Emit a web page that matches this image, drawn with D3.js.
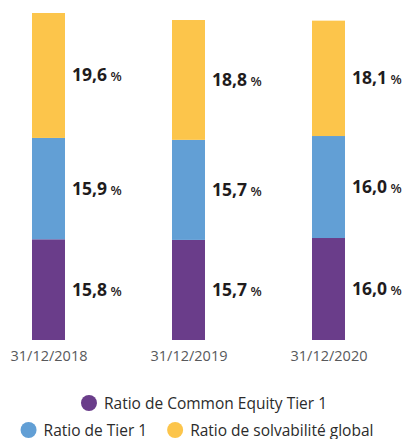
<!DOCTYPE html>
<html>
<head>
<meta charset="utf-8">
<script src="https://cdn.jsdelivr.net/npm/d3@7"></script>
<style>
  body { margin: 0; background: #fff; }
  svg { display: block; font-family: "Open Sans", sans-serif; }
</style>
</head>
<body>
<svg></svg>
<script>
const dates = ["31/12/2018", "31/12/2019", "31/12/2020"];
const cet1 = [15.8, 15.7, 16.0];
const tier1 = [15.9, 15.7, 16.0];
const globalRatio = [19.6, 18.8, 18.1];

const seriesNames = ["Ratio de Common Equity Tier 1", "Ratio de Tier 1", "Ratio de solvabilité global"];
const colors = ["#6a3d8a", "#629fd5", "#fcc54b"];

const width = 408;
const height = 439;
const barWidth = 33;
const baseY = 340;
const topY = 13;

const svg = d3.select("svg").attr("width", width).attr("height", height);

// stack the three ratios on top of each other, one segment per ratio
const rows = dates.map((d, i) => ({ date: d, s0: cet1[i], s1: tier1[i], s2: globalRatio[i] }));
const stacked = d3.stack().keys(["s0", "s1", "s2"])(rows);

const xScale = d3.scalePoint().domain(dates).range([48.5, 328.5]);
const yScale = d3.scaleLinear()
    .domain([0, d3.max(rows, r => r.s0 + r.s1 + r.s2)])
    .range([baseY, topY]);

const fmt = v => v.toFixed(1).replace(".", ",");

stacked.forEach((layer, k) => {
    svg.append("g")
        .selectAll("rect")
        .data(layer)
        .enter()
        .append("rect")
        .attr("x", d => xScale(d.data.date) - barWidth / 2)
        .attr("width", barWidth)
        .attr("y", d => yScale(d[1]))
        .attr("height", d => yScale(d[0]) - yScale(d[1]))
        .attr("fill", colors[k]);

    const labels = svg.append("g")
        .selectAll("text")
        .data(layer)
        .enter()
        .append("text")
        .attr("x", d => xScale(d.data.date) + barWidth / 2 + 7)
        .attr("y", d => (yScale(d[0]) + yScale(d[1])) / 2 + 6)
        .attr("fill", "#1f1c1d");
    labels.append("tspan")
        .attr("font-size", 17.5)
        .attr("font-weight", "bold")
        .text(d => fmt(d[1] - d[0]));
    labels.append("tspan")
        .attr("font-size", 13)
        .attr("font-weight", 600)
        .text(" %");
});

// date labels under the bars
const xAxis = d3.axisBottom(xScale).tickSize(0).tickPadding(0);
const axisG = svg.append("g")
    .attr("transform", "translate(0," + (baseY + 11) + ")")
    .call(xAxis);
axisG.select(".domain").remove();
axisG.selectAll("text")
    .attr("font-family", "Open Sans, sans-serif")
    .attr("font-size", 14.5)
    .attr("fill", "#58595b")
    .attr("dy", "0.71em");

// legend: first series on its own row, the other two on a second row
const legendRows = [[0], [1, 2]];
const legendY = [403, 430];
legendRows.forEach((items, r) => {
    const g = svg.append("g");
    let x = 0;
    items.forEach(i => {
        g.append("circle")
            .attr("cx", x + 8)
            .attr("cy", legendY[r])
            .attr("r", 8)
            .attr("fill", colors[i]);
        const t = g.append("text")
            .attr("x", x + 23)
            .attr("y", legendY[r] + 5.5)
            .attr("font-size", 15.5)
            .attr("fill", "#2b2b2b")
            .text(seriesNames[i]);
        x += 23 + t.node().getComputedTextLength() + 20;
    });
    const w = x - 20;
    g.attr("transform", "translate(" + (r === 0 ? 204 - w / 2 : 197 - w / 2) + ",0)");
});
</script>
</body>
</html>
